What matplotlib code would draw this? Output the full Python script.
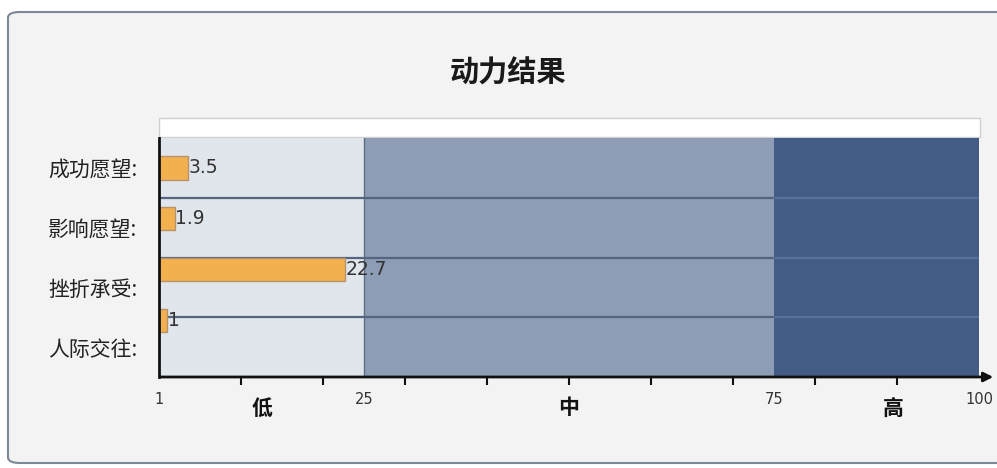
import numpy as np
import matplotlib
matplotlib.use("Agg")
import matplotlib.pyplot as plt
from matplotlib.patches import FancyBboxPatch, Rectangle
from matplotlib.transforms import blended_transform_factory

plt.rcParams["font.family"] = ["Noto Sans CJK SC", "DejaVu Sans"]

# Data
title = "动力结果"
categories = ["成功愿望:", "影响愿望:", "挫折承受:", "人际交往:"]
values = [3.5, 1.9, 22.7, 1]
value_labels = ["3.5", "1.9", "22.7", "1"]

# Score bands (low / mid / high)
band_edges = [0, 25, 75, 100]
band_colors = ["#e1e6ec", "#8e9db6", "#425c85"]
band_names = ["低", "中", "高"]
band_name_pos = [12.5, 50, 89.5]

tick_pos = [0, 25, 75, 100]
tick_labels = ["1", "25", "75", "100"]
minor_ticks = [10, 20, 30, 40, 50, 60, 70, 80, 90]

W, H = 997, 468
fig = plt.figure(figsize=(W / 100, H / 100), dpi=100)
fig.patch.set_facecolor("white")

# outer rounded panel
panel = FancyBboxPatch((8 / W, 5 / H), (W + 20) / W, 451 / H,
                       boxstyle="round,pad=0,rounding_size=0.012",
                       transform=fig.transFigure, facecolor="#f3f3f3",
                       edgecolor="#7d8898", linewidth=1.5, zorder=-2)
fig.patches.append(panel)

# white strip above plot
strip = Rectangle((159 / W, 1 - 137 / H), 821 / W, 19 / H,
                  transform=fig.transFigure, facecolor="white",
                  edgecolor="#cfcfcf", linewidth=1, zorder=-1)
fig.patches.append(strip)

fig.text(508 / W, 1 - 73 / H, title, ha="center", va="center",
         fontsize=21, fontweight="bold", color="#1a1a1a")

ax = fig.add_axes([159 / W, 91 / H, 820 / W, 239 / H])
ax.set_zorder(2)
ax.set_xlim(0, 100)
ax.set_ylim(4, 0)

# bands
for i in range(3):
    ax.axvspan(band_edges[i], band_edges[i + 1], color=band_colors[i], zorder=0, lw=0)
ax.axvline(25, color="#5e6e88", lw=1, zorder=1)

# row dividers
rows = np.arange(1, len(categories))
ax.hlines(rows, 0, 75, color="#55657f", lw=1.6, zorder=1)
ax.hlines(rows, 75, 100, color="#56719b", lw=1.6, zorder=1)

# bars (offset from row centers as in the original)
bar_y = 0.5 + 0.85 * np.arange(len(values))
ax.barh(bar_y, values, height=0.39, color="#f2b04f", edgecolor="#b8926a",
        linewidth=1, zorder=2, align="center")
for y, v, lab in zip(bar_y, values, value_labels):
    ax.text(v + 0.1, y, lab, ha="left", va="center", fontsize=13.5,
            color="#333333", family="DejaVu Sans", zorder=3)

ax.set_yticks(np.arange(len(categories)) + 0.5)
ax.set_yticklabels(categories, fontsize=15, color="#222222")
ax.tick_params(axis="y", length=0, pad=15.5)

ax.set_xticks(tick_pos)
ax.set_xticklabels(tick_labels, fontsize=10.5, color="#333333", family="DejaVu Sans")
ax.set_xticks(minor_ticks, minor=True)
ax.tick_params(axis="x", which="major", length=0, pad=11)
ax.tick_params(axis="x", which="minor", length=6, width=1.5, color="#111111", direction="out")

trans = blended_transform_factory(ax.transData, ax.transAxes)
for name, x in zip(band_names, band_name_pos):
    ax.text(x, -31 / 239, name, transform=trans, ha="center", va="center",
            fontsize=15, fontweight="bold", color="#111111")

for s in ["top", "right", "bottom"]:
    ax.spines[s].set_visible(False)
ax.spines["left"].set_linewidth(2)
ax.spines["left"].set_color("#111111")

# x axis arrow
ax.annotate("", xy=(996 / W, 91 / H), xycoords="figure fraction",
            xytext=(158 / W, 91 / H), textcoords="figure fraction",
            arrowprops=dict(arrowstyle="-|>", color="#111111", lw=2, mutation_scale=14),
            annotation_clip=False)

plt.savefig("out.png", dpi=100)
